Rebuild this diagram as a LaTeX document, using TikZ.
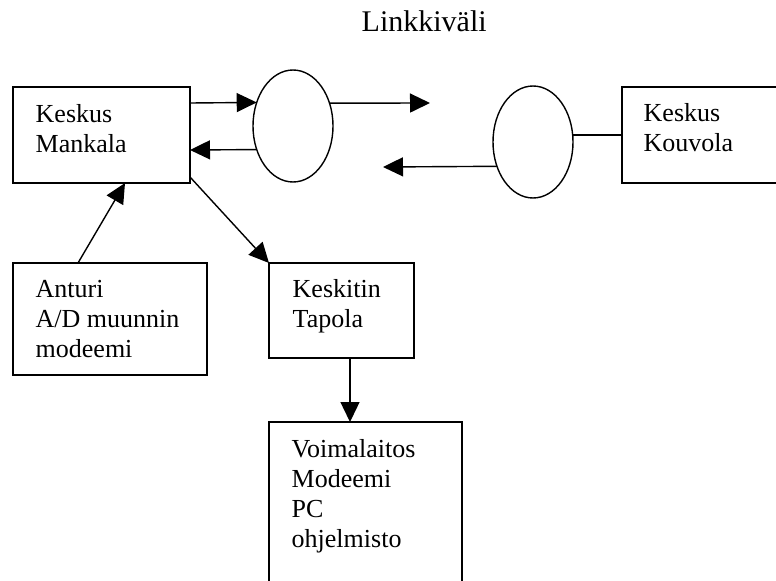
\documentclass[tikz,border=0pt]{standalone}
\usepackage{fontspec}
\setmainfont{Liberation Serif}
\usetikzlibrary{arrows.meta,shapes.geometric}
\begin{document}
\begin{tikzpicture}[x=1bp,y=-1bp,line width=1.4bp,
  box/.style={draw,rectangle,anchor=north west,inner sep=0pt,outer sep=0pt},
  oval/.style={draw,ellipse,inner sep=0pt,outer sep=0pt,minimum width=80bp,minimum height=112bp},
  lbl/.style={anchor=base west,inner sep=0pt,font=\fontsize{26bp}{30bp}\selectfont},
  arr/.style={-{Triangle[length=20bp,width=19bp]}}]
\useasboundingbox (0,0) rectangle (776,581);
\clip (0,0) rectangle (776,581);
\node[anchor=base west,inner sep=0pt,font=\fontsize{30bp}{34bp}\selectfont] (title) at (361,32) {Linkkiväli};
% boxes
\node[box,minimum width=177bp,minimum height=96bp] (mank) at (13,87) {};
\node[box,minimum width=170bp,minimum height=96bp] (kouv) at (622,87) {};
\node[box,minimum width=194bp,minimum height=112bp] (ant) at (13,263) {};
\node[box,minimum width=145bp,minimum height=95bp] (kesk) at (269,263) {};
\node[box,minimum width=193bp,minimum height=200bp] (voim) at (269,422) {};
% ellipses
\node[oval] (e1) at (293,126) {};
\node[oval] (e2) at (533,142) {};
% texts
\node[lbl] (tmank) at (35,123) {\begin{tabular}[t]{@{}l@{}}Keskus\\Mankala\end{tabular}};
\node[lbl] (tkouv) at (643,122) {\begin{tabular}[t]{@{}l@{}}Keskus\\Kouvola\end{tabular}};
\node[lbl] (tant) at (35,297) {\begin{tabular}[t]{@{}l@{}}Anturi\\A/D muunnin\\modeemi\end{tabular}};
\node[lbl] (tkesk) at (292,297) {\begin{tabular}[t]{@{}l@{}}Keskitin\\Tapola\end{tabular}};
\node[lbl] (tvoim) at (291,457) {\begin{tabular}[t]{@{}l@{}}Voimalaitos\\Modeemi\\PC\\ohjelmisto\end{tabular}};
% free ends
\coordinate (c1) at (430,103);
\coordinate (c2) at (383,167);
% connectors
\draw[arr] ([yshift=32bp]mank.east) -- (e1.147.8);
\draw[arr] (e1.213.6) -- ([yshift=-15bp]mank.east);
\draw[arr] (e1.32.2) -- (c1);
\draw[arr] (e2.214.9) -- (c2);
\draw (e2.10) -- (e2.10 -| kouv.west);
\draw[arr] ([xshift=-32bp]ant.north) -- ([xshift=23.5bp]mank.south);
\draw[arr] ([yshift=6bp]mank.south east) -- (kesk.north west);
\draw[arr] ([xshift=8.5bp]kesk.south) -- ([xshift=8.5bp]kesk.south |- voim.north);
\end{tikzpicture}
\end{document}
